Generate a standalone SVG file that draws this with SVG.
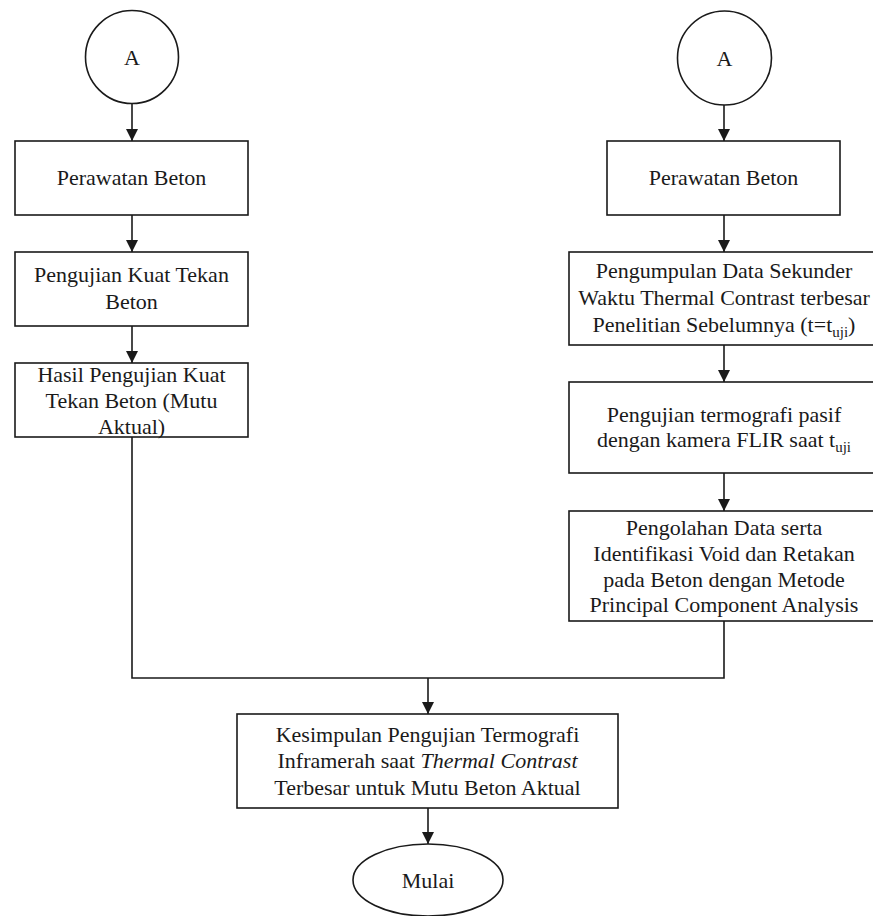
<svg xmlns="http://www.w3.org/2000/svg" width="873" height="916" viewBox="0 0 873 916">
<defs>
<style>
.n{fill:#fff;stroke:#1a1a1a;stroke-width:1.6}
.t{font-family:"Liberation Serif","Times New Roman",serif;font-size:22px;fill:#1a1a1a;text-anchor:middle}
.c{fill:none;stroke:#1a1a1a;stroke-width:1.6}
.a{marker-end:url(#ah)}
</style>
<marker id="ah" viewBox="0 0 12 12" refX="12" refY="6" markerWidth="12" markerHeight="12" markerUnits="userSpaceOnUse" orient="auto">
<path d="M0,0 L12,6 L0,12 Z" fill="#1a1a1a"/>
</marker>
</defs>
<rect width="873" height="916" fill="#fff"/>
<g id="connectors">
<line class="c a" x1="132" y1="104" x2="132" y2="141"/>
<line class="c a" x1="132" y1="215" x2="132" y2="252"/>
<line class="c a" x1="132" y1="326" x2="132" y2="363"/>
<polyline class="c" points="132,437 132,678 724,678 724,621"/>
<line class="c a" x1="724" y1="105" x2="724" y2="141"/>
<line class="c a" x1="724" y1="215" x2="724" y2="252"/>
<line class="c a" x1="724" y1="345" x2="724" y2="382"/>
<line class="c a" x1="724" y1="473" x2="724" y2="511"/>
<line class="c a" x1="428" y1="678" x2="428" y2="714"/>
<line class="c a" x1="428" y1="808" x2="428" y2="844"/>
</g>
<g id="startA_left">
<circle class="n" cx="132" cy="57" r="46.5"/>
<text class="t" x="132" y="65">A</text>
</g>
<g id="startA_right">
<circle class="n" cx="724.5" cy="58" r="47"/>
<text class="t" x="724.5" y="66">A</text>
</g>
<g id="perawatan_left">
<rect class="n" x="15" y="141" width="233" height="74"/>
<text class="t" x="131.5" y="185">Perawatan Beton</text>
</g>
<g id="pengujian_kuat">
<rect class="n" x="15" y="252" width="233" height="74"/>
<text class="t" x="131.5" y="282">Pengujian Kuat Tekan</text>
<text class="t" x="131.5" y="309">Beton</text>
</g>
<g id="hasil_pengujian">
<rect class="n" x="15" y="363" width="233" height="74"/>
<text class="t" x="131.5" y="382">Hasil Pengujian Kuat</text>
<text class="t" x="131.5" y="408">Tekan Beton (Mutu</text>
<text class="t" x="131.5" y="434">Aktual)</text>
</g>
<g id="perawatan_right">
<rect class="n" x="607" y="141" width="233" height="74"/>
<text class="t" x="723.5" y="185">Perawatan Beton</text>
</g>
<g id="pengumpulan_data">
<rect class="n" x="569" y="252" width="310" height="93"/>
<text class="t" x="724" y="278">Pengumpulan Data Sekunder</text>
<text class="t" x="724" y="305">Waktu Thermal Contrast terbesar</text>
<text class="t" x="724" y="332">Penelitian Sebelumnya (t=t<tspan font-size="15" baseline-shift="-5">uji</tspan>)</text>
</g>
<g id="pengujian_termografi">
<rect class="n" x="569" y="382" width="310" height="91"/>
<text class="t" x="724" y="422">Pengujian termografi pasif</text>
<text class="t" x="724" y="447">dengan kamera FLIR saat t<tspan font-size="15" baseline-shift="-5">uji</tspan></text>
</g>
<g id="pengolahan_data">
<rect class="n" x="569" y="511" width="310" height="110"/>
<text class="t" x="724" y="535">Pengolahan Data serta</text>
<text class="t" x="724" y="561">Identifikasi Void dan Retakan</text>
<text class="t" x="724" y="587">pada Beton dengan Metode</text>
<text class="t" x="724" y="612">Principal Component Analysis</text>
</g>
<g id="kesimpulan">
<rect class="n" x="237" y="714" width="381" height="94"/>
<text class="t" x="427.5" y="742">Kesimpulan Pengujian Termografi</text>
<text class="t" x="427.5" y="768">Inframerah saat <tspan font-style="italic">Thermal Contrast</tspan></text>
<text class="t" x="427.5" y="795">Terbesar untuk Mutu Beton Aktual</text>
</g>
<g id="mulai">
<ellipse class="n" cx="428" cy="880" rx="75" ry="36"/>
<text class="t" x="428" y="888">Mulai</text>
</g>
</svg>
